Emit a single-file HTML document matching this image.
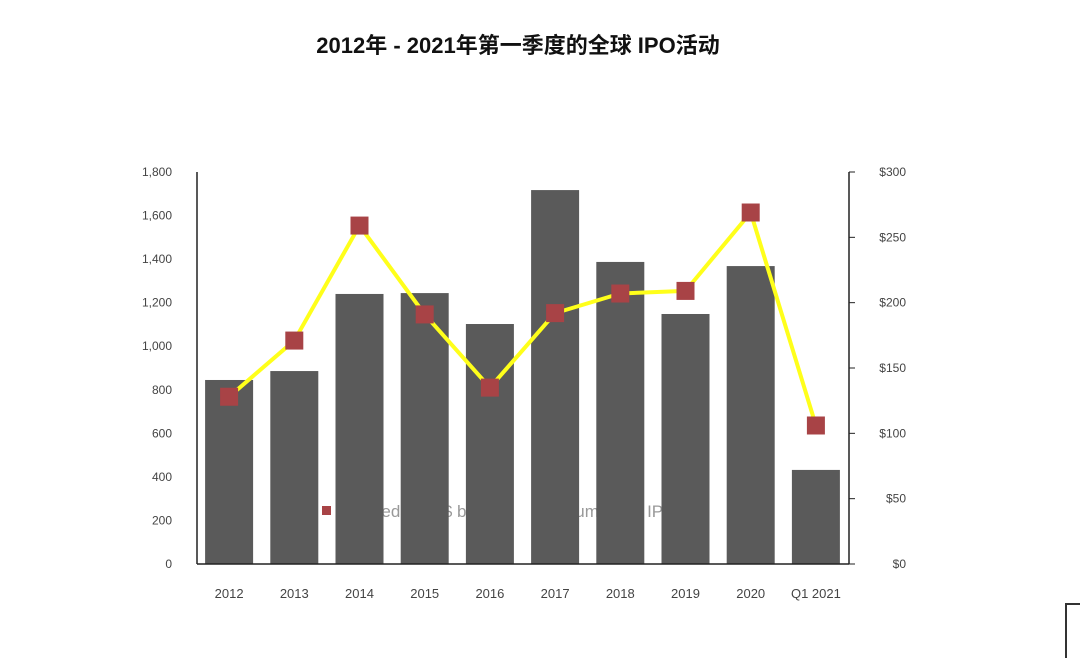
<!DOCTYPE html>
<html><head><meta charset="utf-8"><style>
body{margin:0;background:#fff;width:1080px;height:658px;overflow:hidden;font-family:"Liberation Sans","Noto Sans CJK SC",sans-serif}
</style></head><body>
<svg id="chart" width="1080" height="658" xmlns="http://www.w3.org/2000/svg" font-family="Liberation Sans, Noto Sans CJK SC, sans-serif">
<text x="518" y="53" text-anchor="middle" font-size="22" font-weight="bold" fill="#111">2012年 - 2021年第一季度的全球 IPO活动</text>
<g id="legend">
<rect x="322" y="506" width="9" height="9" fill="#a84346"/>
<text x="337" y="517" font-size="17" fill="#999">Proceeds (US$ b)</text>
<text x="563" y="517" font-size="17" fill="#999">Number of IPOs</text>
</g>
<g id="bars"></g><g id="axes"></g><g id="line"></g>
<path d="M1066 658 V604 H1080" fill="none" stroke="#333" stroke-width="2"/>
</svg>
<script>
const categories=["2012","2013","2014","2015","2016","2017","2018","2019","2020","Q1 2021"];
const ipoCounts=[845,886,1240,1244,1102,1717,1387,1148,1368,432];
const proceeds=[128,171,259,191,135,192,207,209,269,106];
const leftTicks=[0,200,400,600,800,1000,1200,1400,1600,1800];
const rightTicks=[0,50,100,150,200,250,300];
const NS="http://www.w3.org/2000/svg";
const x0=197,x1=849,yTop=172,yBot=564;
const step=(x1-x0)/categories.length;
const xC=i=>x0+step*(i+0.5)-0.5;
const yL=v=>yBot-(v/1800)*(yBot-yTop);
const yR=v=>yBot-(v/300)*(yBot-yTop);
function mk(tag,attrs,parent){const e=document.createElementNS(NS,tag);for(const k in attrs)e.setAttribute(k,attrs[k]);parent.appendChild(e);return e;}
const bars=document.getElementById('bars'),axes=document.getElementById('axes'),line=document.getElementById('line');
ipoCounts.forEach((v,i)=>{const r=mk('rect',{x:xC(i)-24,y:yL(v),width:48,height:yBot-yL(v),fill:'#5a5a5a'},bars);

});
let a=mk('line',{x1:x0,y1:yTop,x2:x0,y2:yBot,stroke:'#222','stroke-width':1.5},axes);


a=mk('line',{x1:x1,y1:yTop,x2:x1,y2:yBot,stroke:'#222','stroke-width':1.5},axes);


a=mk('line',{x1:x0,y1:yBot,x2:x1,y2:yBot,stroke:'#222','stroke-width':1.5},axes);


leftTicks.forEach(v=>{const t=mk('text',{x:172,y:yL(v)+4,'text-anchor':'end','font-size':12,fill:'#444'},axes);t.textContent=v.toLocaleString('en-US');

});
rightTicks.forEach(v=>{mk('line',{x1:x1,y1:yR(v),x2:x1+6,y2:yR(v),stroke:'#222'},axes);
const t=mk('text',{x:906,y:yR(v)+4,'text-anchor':'end','font-size':12,fill:'#444'},axes);t.textContent='$'+v;

});
categories.forEach((c,i)=>{const t=mk('text',{x:xC(i),y:598,'text-anchor':'middle','font-size':13,fill:'#444'},axes);t.textContent=c;

});
const pl=mk('polyline',{points:proceeds.map((v,i)=>xC(i)+','+yR(v)).join(' '),fill:'none',stroke:'#ffff1a','stroke-width':4,'stroke-linejoin':'round'},line);


proceeds.forEach((v,i)=>{const r=mk('rect',{x:xC(i)-9,y:yR(v)-9,width:18,height:18,fill:'#a84346'},line);

});
</script>
</body></html>
